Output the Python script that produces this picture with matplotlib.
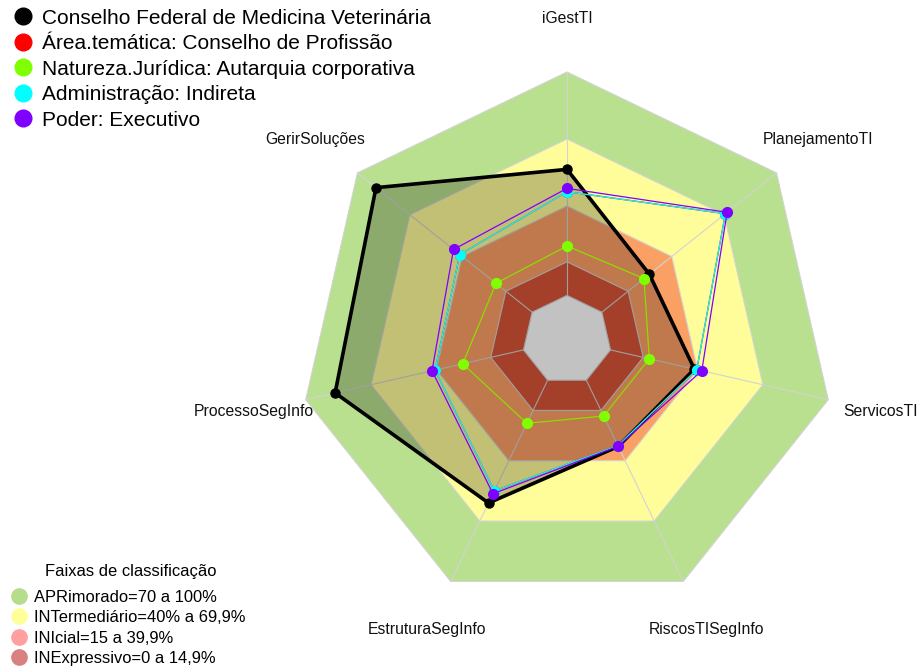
import numpy as np
import matplotlib
matplotlib.use("Agg")
import matplotlib.pyplot as plt
from matplotlib.patches import Polygon

plt.rcParams['font.family'] = ['Liberation Sans', 'DejaVu Sans']

# Axes of the radar (clockwise from top)
axes_names = ['iGestTI', 'PlanejamentoTI', 'ServicosTI', 'RiscosTISegInfo',
              'EstruturaSegInfo', 'ProcessoSegInfo', 'GerirSoluções']

# Series values (% of maximum)
conselho_vet = [56.4, 27.2, 38.5, 32.9, 61.0, 86.5, 89.4]
area_tematica = [46.4, 70.7, 39.6, 32.5, 55.0, 40.6, 41.4]
natureza_juridica = [22.1, 24.1, 17.8, 17.8, 21.4, 27.9, 20.7]
administracao = [46.4, 70.7, 39.6, 32.5, 55.0, 40.6, 41.4]
poder = [47.9, 71.7, 41.9, 32.8, 56.4, 42.0, 45.0]

series_names = ['Conselho Federal de Medicina Veterinária',
                'Área.temática: Conselho de Profissão',
                'Natureza.Jurídica: Autarquia corporativa',
                'Administração: Indireta',
                'Poder: Executivo']
series_values = [conselho_vet, area_tematica, natureza_juridica, administracao, poder]
series_colors = ['#000000', '#ff0000', '#7fff00', '#00ffff', '#8000ff']

# Classification bands
band_limits = [100, 70, 40, 15]
band_colors = ['#b8e08e', '#fffd99', '#fba064', '#d85437']
band_labels = ['APRimorado=70 a 100%', 'INTermediário=40% a 69,9%',
               'INIcial=15 a 39,9%', 'INExpressivo=0 a 14,9%']
band_legend_colors = ['#b5dd8c', '#ffff99', '#ff9f9f', '#d98080']


def radius(v):
    # center hole of 1/6 like fmsb with 5 segments
    return (1 + 5 * np.asarray(v) / 100.0) / 6.0


n = len(axes_names)
angles = np.pi / 2 - np.arange(n) * 2 * np.pi / n


def to_xy(values):
    r = radius(values)
    return r * np.cos(angles), r * np.sin(angles)


fig = plt.figure(figsize=(9.21, 6.66), dpi=100)
ax = fig.add_axes([0, 0, 1, 1])
R = 268.0
ax.set_xlim(-567 / R, (921 - 567) / R)
ax.set_ylim(-(666 - 340) / R, 340 / R)
ax.axis('off')

# bands, outer to inner
for lim, col in zip(band_limits, band_colors):
    x, y = to_xy([lim] * n)
    ax.add_patch(Polygon(np.column_stack([x, y]), closed=True, facecolor=col,
                         edgecolor='#d3d3d3', linewidth=0.8, zorder=1))
x, y = to_xy([0] * n)
ax.add_patch(Polygon(np.column_stack([x, y]), closed=True, facecolor='white',
                     edgecolor='#d3d3d3', linewidth=0.8, zorder=1))

# radial axis lines
x0, y0 = to_xy([0] * n)
x1, y1 = to_xy([100] * n)
for i in range(n):
    ax.plot([x0[i], x1[i]], [y0[i], y1[i]], color='#d3d3d3', lw=0.8, zorder=2)

# axis labels
for i, name in enumerate(axes_names):
    ax.text(1.2 * np.cos(angles[i]), 1.2 * np.sin(angles[i]), name,
            ha='center', va='center', fontsize=11.3, color='#111111')

# series
for k, (vals, col) in enumerate(zip(series_values, series_colors)):
    x, y = to_xy(vals)
    xc = np.append(x, x[0])
    yc = np.append(y, y[0])
    if k == 0:
        ax.add_patch(Polygon(np.column_stack([x, y]), closed=True, facecolor='black',
                             alpha=0.24, edgecolor='none', zorder=3))
        ax.plot(xc, yc, color=col, lw=2.6, zorder=4)
        ax.plot(x, y, 'o', color=col, ms=6.5, zorder=4)
    else:
        line_col = '#8fdc00' if col == '#7fff00' else col
        ax.plot(xc, yc, color=line_col, lw=0.9, zorder=4 + k)
        ax.plot(x, y, 'o', color=col, ms=7, zorder=4 + k)

# series legend (top left)
for i, (name, col) in enumerate(zip(series_names, series_colors)):
    yy = 1 - (16 + i * 25.6) / 666
    fig.lines.append(plt.Line2D([23.3 / 921], [yy], marker='o', ms=12, color=col,
                                transform=fig.transFigure))
    fig.text(42 / 921, yy, name, fontsize=15, va='center_baseline', ha='left')

# band legend (bottom left)
fig.text(45 / 921, 1 - 570 / 666, 'Faixas de classificação', fontsize=11.9,
         va='center_baseline', ha='left')
for i, (lab, col) in enumerate(zip(band_labels, band_legend_colors)):
    yy = 1 - (596 + i * 20.4) / 666
    fig.lines.append(plt.Line2D([19 / 921], [yy], marker='o', ms=11, color=col,
                                transform=fig.transFigure))
    fig.text(34 / 921, yy, lab, fontsize=11.9, va='center_baseline', ha='left')

fig.savefig('out.png', dpi=100)
